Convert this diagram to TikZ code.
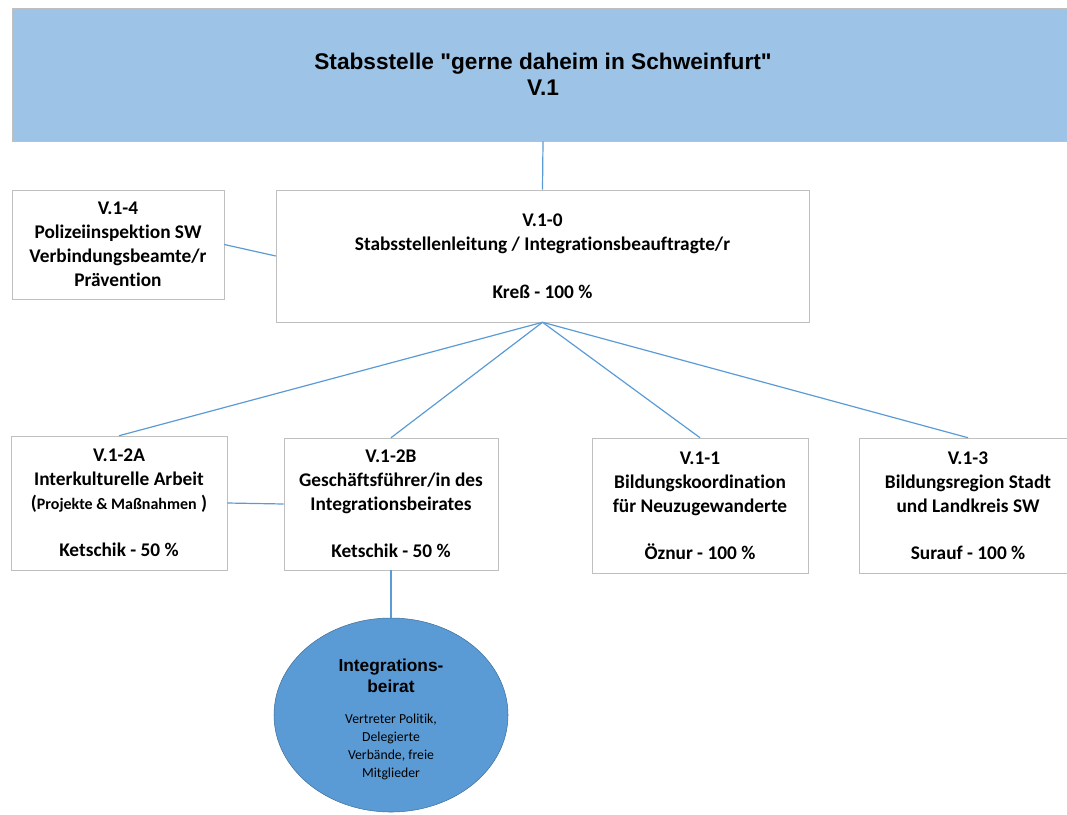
\documentclass[tikz,border=0pt]{standalone}
\usepackage{fontspec}
\setmainfont{Carlito}[Ligatures=NoCommon]
\newfontfamily\arialfont{Liberation Sans}
\usetikzlibrary{shapes.geometric}
\definecolor{headfill}{HTML}{9DC3E6}
\definecolor{linkblue}{HTML}{5B9BD5}
\definecolor{boxgray}{HTML}{BFBFBF}
\definecolor{beiratfill}{HTML}{5B9BD5}
\definecolor{beiratdraw}{HTML}{41719C}
\tikzset{
  unit/.style={draw=boxgray, fill=white, align=center, inner sep=0pt,
    font=\bfseries\fontsize{14.5}{18}\selectfont},
  link/.style={draw=linkblue, line width=0.9pt},
}
\begin{document}
\begin{tikzpicture}[x=0.75pt,y=-0.75pt]
         \useasboundingbox (0,0) rectangle (1067,814);
         \node[draw=boxgray,fill=headfill,name=head,align=center,
               minimum width=1062*0.75pt,minimum height=133*0.75pt,
               font=\arialfont\bfseries\fontsize{17}{19.5}\selectfont]
               at (543,74.5) {Stabsstelle "gerne daheim in Schweinfurt"\\V.1};
         \node[unit,name=lead,minimum width=533*0.75pt,minimum height=132*0.75pt]
               at (542.5,256) {V.1-0\\Stabsstellenleitung / Integrationsbeauftragte/r\\[18pt]Kreß - 100 \%};
         \node[unit,name=pol,minimum width=212*0.75pt,minimum height=109*0.75pt]
               at (118,244.5) {V.1-4\\Polizeiinspektion SW\\Verbindungsbeamte/r\\Prävention};
         \node[unit,name=kult,minimum width=216*0.75pt,minimum height=134*0.75pt]
               at (119,503) {V.1-2A\\Interkulturelle Arbeit\\({\fontsize{12}{18}\selectfont Projekte \& Maßnahmen} )\\[17pt]Ketschik - 50 \%};
         \node[unit,name=gf,minimum width=214*0.75pt,minimum height=132*0.75pt]
               at (391,504) {V.1-2B\\Geschäftsführer/in des\\Integrationsbeirates\\[17pt]Ketschik - 50 \%};
         \node[unit,name=bkoord,minimum width=216*0.75pt,minimum height=135*0.75pt]
               at (700,505.5) {V.1-1\\Bildungskoordination\\für Neuzugewanderte\\[17pt]Öznur - 100 \%};
         \node[unit,name=bregion,minimum width=218*0.75pt,minimum height=135*0.75pt]
               at (968,505.5) {V.1-3\\Bildungsregion Stadt\\und Landkreis SW\\[17pt]Surauf - 100 \%};
         \node[ellipse,draw=beiratdraw,fill=beiratfill,name=beirat,
               minimum width=234*0.75pt,minimum height=194*0.75pt] at (391,715) {};
         \node[name=beirattitle,align=center,inner sep=0pt,
               font=\arialfont\bfseries\fontsize{13}{15.75}\selectfont]
               at (391,675.5) {Integrations-\\beirat};
         \node[name=beiratbody,align=center,inner sep=0pt,
               font=\fontsize{10.3}{13.5}\selectfont]
               at (391,746.5) {Vertreter Politik,\\Delegierte\\Verbände, freie\\Mitglieder};

         \path[link]
            (head.south) edge (lead.north)
            (pol.east)   edge (lead.west)
            (lead.south) edge (kult.north)
                         edge (gf.north)
                         edge (bkoord.north)
                         edge (bregion.north)
            (kult.east)  edge (gf.west)
            (gf.south)   edge (beirat.north);
      \end{tikzpicture}
\end{document}
